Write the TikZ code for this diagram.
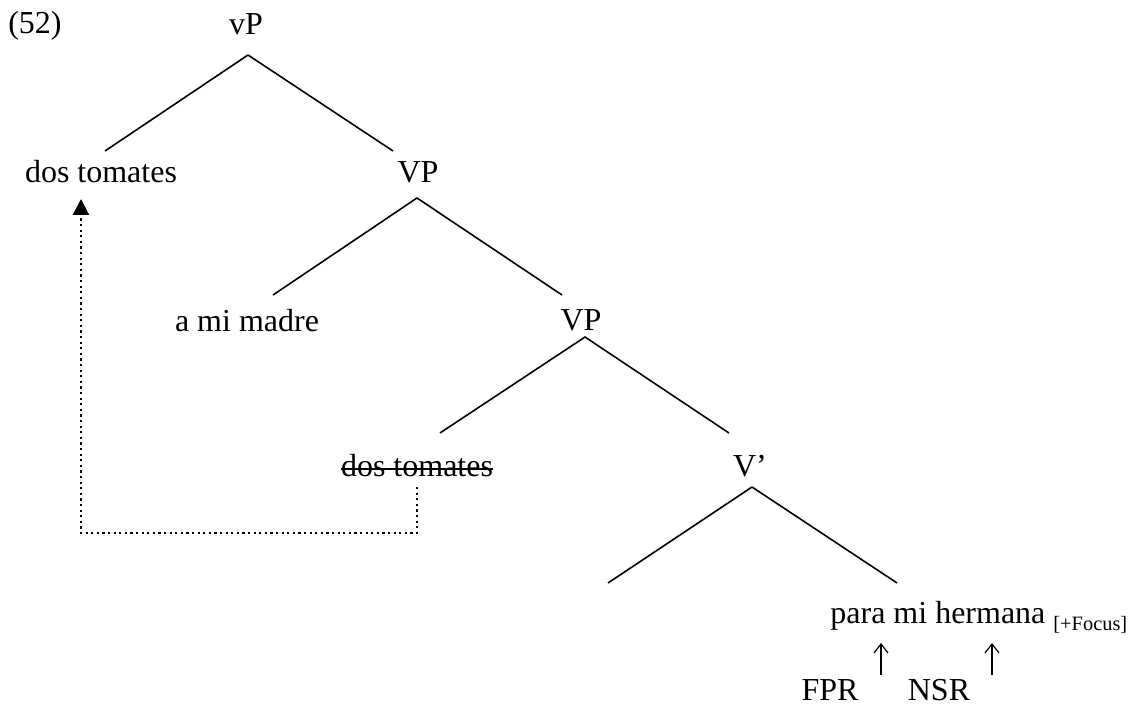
\documentclass[tikz,border=0pt]{standalone}
\usepackage{fontspec}
\setmainfont{Liberation Serif}
\usepackage{tikz}
\usetikzlibrary{positioning, arrows.meta}

\begin{document}
\begin{tikzpicture}[x=0.5pt, y=-0.5pt,
  lbl/.style={anchor=base, inner sep=0pt, font=\fontsize{16pt}{19pt}\selectfont},
  branch/.style={line width=0.8pt},
  move/.style={line width=1.1pt, dash pattern=on 1.1pt off 1.7pt, -{Triangle[length=8pt, width=8pt]}},
  rule/.style={line width=0.6pt, -{Straight Barb[length=4.5pt, width=7pt]}}]
\useasboundingbox (0,0) rectangle (1134,705);

\node[lbl] (ex) at (35,34) {(52)};
\node[lbl] (vP) at (246,35) {vP};
\node[lbl] (dosA) at (101,183) {dos tomates};
\node[lbl] (VPa) at (418,183) {VP};
\node[lbl] (madre) at (247,332) {a mi madre};
\node[lbl] (VPb) at (581,331) {VP};
\node[lbl] (dosB) at (417,476) {dos tomates};
\node[lbl] (Vbar) at (750,476) {V’};
\node[lbl, anchor=base west] (para) at (830,623) {para mi hermana \raisebox{-3.5pt}{\fontsize{10.2pt}{12pt}\selectfont[+Focus]}};
\node[lbl] (fpr) at (830,700) {FPR};
\node[lbl] (nsr) at (939,700) {NSR};

\draw[branch] ([yshift=3.6pt]dosB.base west) -- ([yshift=3.6pt]dosB.base east);

\coordinate (vPtop) at (248,55);
\coordinate (vPl) at (105,151);
\coordinate (vPr) at (393,151);
\draw[branch] (vPl) -- (vPtop) -- (vPr);

\coordinate (VPatop) at (417,198);
\coordinate (VPal) at (273,295);
\coordinate (VPar) at (562,295);
\draw[branch] (VPal) -- (VPatop) -- (VPar);

\coordinate (VPbtop) at (585,337);
\coordinate (VPbl) at (440,433);
\coordinate (VPbr) at (729,433);
\draw[branch] (VPbl) -- (VPbtop) -- (VPbr);

\coordinate (Vbartop) at (752,487);
\coordinate (Vbarl) at (608,583);
\coordinate (Vbarr) at (897,583);
\draw[branch] (Vbarl) -- (Vbartop) -- (Vbarr);

\coordinate (trace) at (417,487);
\coordinate (landing) at (81,199);
\draw[move] (trace) -- ++(0,46) -| (landing);

\coordinate (fprtip) at (881,643);
\coordinate (nsrtip) at (992,643);
\draw[rule] (881,675) -- (fprtip);
\draw[rule] (992,675) -- (nsrtip);
\end{tikzpicture}
\end{document}
